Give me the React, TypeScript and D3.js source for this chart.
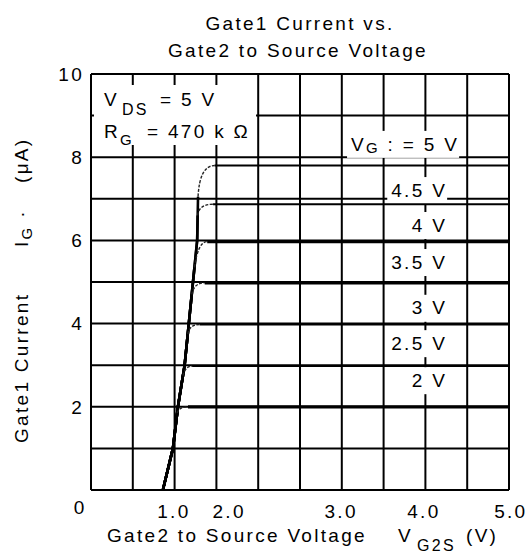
import React, { useEffect, useRef } from "react";
import * as d3 from "d3";

// ---- data ----
const gridVoltages = [0, 0.5, 1, 1.5, 2, 2.5, 3, 3.5, 4, 4.5, 5];
const gridCurrents = [0, 1, 2, 3, 4, 5, 6, 7, 8, 9, 10];
const xTickLabels = ["0", "1.0", "2.0", "3.0", "4.0", "5.0"];
const xTickLabelPos = [-0.14, 0.98, 1.64, 2.98, 3.97, 5.01];
const yTickLabels = ["10", "8", "6", "4", "2"];
const yTickValues = [10, 8, 6, 4, 2];

// common rising edge (V_G2S vs I_G1)
const risingCurrent = [0, 1, 2, 3, 4, 5, 6, 7, 8];
const risingVoltage = [0.86, 0.98, 1.04, 1.12, 1.17, 1.22, 1.27, 1.28, 1.29];

const seriesLabels = ["5 V", "4.5 V", "4 V", "3.5 V", "3 V", "2.5 V", "2 V"];
const plateauCurrent = [7.8, 6.87, 5.97, 4.98, 3.98, 2.98, 2.0];
const kneeStartCurrent = [7.05, 6.6, 5.35, 4.7, 3.75, 2.75, 1.85];
const kneeEndVoltage = [1.48, 1.46, 1.39, 1.36, 1.3, 1.21, 1.16];
const plateauWeight = [2, 2, 3.2, 3.2, 2, 2, 3.2];
const labelCurrent = [8.32, 7.21, 6.37, 5.48, 4.38, 3.53, 2.64];
const labelVoltage = 4.26;

const W = 528;
const H = 557;
const FONT = "'Liberation Sans', Arial, Helvetica, sans-serif";
const LS = "2.3px";

export default function App() {
  const ref = useRef<SVGSVGElement | null>(null);

  useEffect(() => {
    const svg = d3.select(ref.current);
    svg.selectAll("*").remove();

    const x = d3.scaleLinear().domain([0, 5]).range([91, 509]);
    const y = d3.scaleLinear().domain([0, 10]).range([490, 74]);
    const risingX = d3.scaleLinear().domain(risingCurrent).range(risingVoltage);

    svg.append("rect").attr("width", W).attr("height", H).attr("fill", "#fff");

    const gGrid = svg.append("g");
    gGrid
      .selectAll("line.v")
      .data(gridVoltages)
      .join("line")
      .attr("x1", (d) => x(d))
      .attr("x2", (d) => x(d))
      .attr("y1", y(0))
      .attr("y2", y(10))
      .attr("stroke", "#000")
      .attr("stroke-width", 2);
    gGrid
      .selectAll("line.h")
      .data(gridCurrents)
      .join("line")
      .attr("class", "h")
      .attr("x1", x(0))
      .attr("x2", x(5))
      .attr("y1", (d) => y(d))
      .attr("y2", (d) => y(d))
      .attr("stroke", "#000")
      .attr("stroke-width", 2);

    const gBg = svg.append("g");
    const gCurves = svg.append("g");
    const gText = svg
      .append("g")
      .attr("font-family", FONT)
      .attr("font-size", 19)
      .attr("letter-spacing", LS)
      .attr("fill", "#000");

    // annotation box (top-left)
    gBg
      .append("rect")
      .attr("x", 94)
      .attr("y", 85)
      .attr("width", 162)
      .attr("height", 60)
      .attr("fill", "#fff");

    const t1 = gText.append("text").attr("y", 106);
    t1.append("tspan").attr("x", 104).text("V");
    t1.append("tspan").attr("x", 122).attr("dy", 9).attr("font-size", 16).text("DS");
    t1.append("tspan").attr("x", 160).attr("dy", -9).text("= 5 V");

    const t2 = gText.append("text").attr("y", 138);
    t2.append("tspan").attr("x", 104).text("R");
    t2.append("tspan").attr("x", 120).attr("dy", 7).attr("font-size", 15).text("G");
    t2.append("tspan").attr("x", 147).attr("dy", -7).text("= 470 k Ω");

    // curves
    seriesLabels.forEach((_, i) => {
      const p = plateauCurrent[i];
      const ks = kneeStartCurrent[i];
      const pts = risingCurrent.filter((c) => c < ks).map((c) => [risingX(c), c]);
      pts.push([risingX(ks), ks]);
      const rise = d3.path();
      pts.forEach((pt, j) => {
        if (j === 0) rise.moveTo(x(pt[0]), y(pt[1]));
        else rise.lineTo(x(pt[0]), y(pt[1]));
      });
      gCurves
        .append("path")
        .attr("d", rise.toString())
        .attr("fill", "none")
        .attr("stroke", "#000")
        .attr("stroke-width", 2.6);

      const knee = d3.path();
      knee.moveTo(x(risingX(ks)), y(ks));
      knee.quadraticCurveTo(x(risingX(Math.min(p, 8))) + 1, y(p), x(kneeEndVoltage[i]), y(p));
      gCurves
        .append("path")
        .attr("d", knee.toString())
        .attr("fill", "none")
        .attr("stroke", "#222")
        .attr("stroke-width", 1.4)
        .attr("stroke-dasharray", "3,1.5");

      gCurves
        .append("line")
        .attr("x1", x(kneeEndVoltage[i]))
        .attr("x2", x(5))
        .attr("y1", y(p))
        .attr("y2", y(p))
        .attr("stroke", "#000")
        .attr("stroke-width", plateauWeight[i]);
    });

    // series labels with white backing
    seriesLabels.forEach((lab, i) => {
      const t = gText
        .append("text")
        .attr("x", x(labelVoltage))
        .attr("y", y(labelCurrent[i]))
        .attr("dy", "0.35em")
        .attr("text-anchor", "end");
      if (i === 0) {
        t.append("tspan").text("V");
        t.append("tspan").attr("font-size", 15).attr("dy", 2).text("G");
        t.append("tspan").attr("dy", -2).text(" : = " + lab);
        t.attr("x", x(labelVoltage) + 12);
      } else {
        t.text(lab);
      }
      const bb = (t.node() as SVGTextElement).getBBox();
      gBg
        .append("rect")
        .attr("x", bb.x - 4)
        .attr("y", y(labelCurrent[i]) - 13)
        .attr("width", bb.width + 4)
        .attr("height", 27)
        .attr("fill", "#fff");
    });

    // axis tick labels
    gText
      .selectAll("text.yt")
      .data(yTickValues)
      .join("text")
      .attr("class", "yt")
      .attr("x", 84)
      .attr("y", (d) => y(d))
      .attr("dy", "0.36em")
      .attr("text-anchor", "end")
      .text((_, i) => yTickLabels[i]);

    gText
      .selectAll("text.xt")
      .data(xTickLabelPos)
      .join("text")
      .attr("class", "xt")
      .attr("x", (d) => x(d) + 1)
      .attr("y", (_, i) => (i === 0 ? 514 : 518))
      .attr("text-anchor", "middle")
      .text((_, i) => xTickLabels[i]);

    // titles
    gText.append("text").attr("x", 300).attr("y", 30).attr("text-anchor", "middle").text("Gate1 Current vs.");
    gText
      .append("text")
      .attr("x", 298)
      .attr("y", 57)
      .attr("text-anchor", "middle")
      .text("Gate2 to Source Voltage");

    // x axis title
    gText.append("text").attr("x", 107).attr("y", 542).text("Gate2 to Source Voltage");
    const xt = gText.append("text").attr("y", 542);
    xt.append("tspan").attr("x", 398).text("V");
    xt.append("tspan").attr("x", 417).attr("dy", 9).attr("font-size", 16).text("G2S");
    xt.append("tspan").attr("x", 466).attr("dy", -9).text("(V)");

    // y axis title (rotated)
    const gy = gText.append("g").attr("transform", "rotate(-90)");
    gy.append("text").attr("x", -443).attr("y", 28).text("Gate1 Current");
    const ig = gy.append("text").attr("x", -247).attr("y", 28);
    ig.append("tspan").text("I");
    ig.append("tspan").attr("font-size", 15).attr("dy", 4).text("G");
    ig.append("tspan").attr("dy", -4).text(" ·");
    gy.append("text").attr("x", -183).attr("y", 28).text("(μA)");
  }, []);

  return (
    <svg
      ref={ref}
      width={W}
      height={H}
      style={{ position: "absolute", left: 0, top: 0, display: "block" }}
    />
  );
}
